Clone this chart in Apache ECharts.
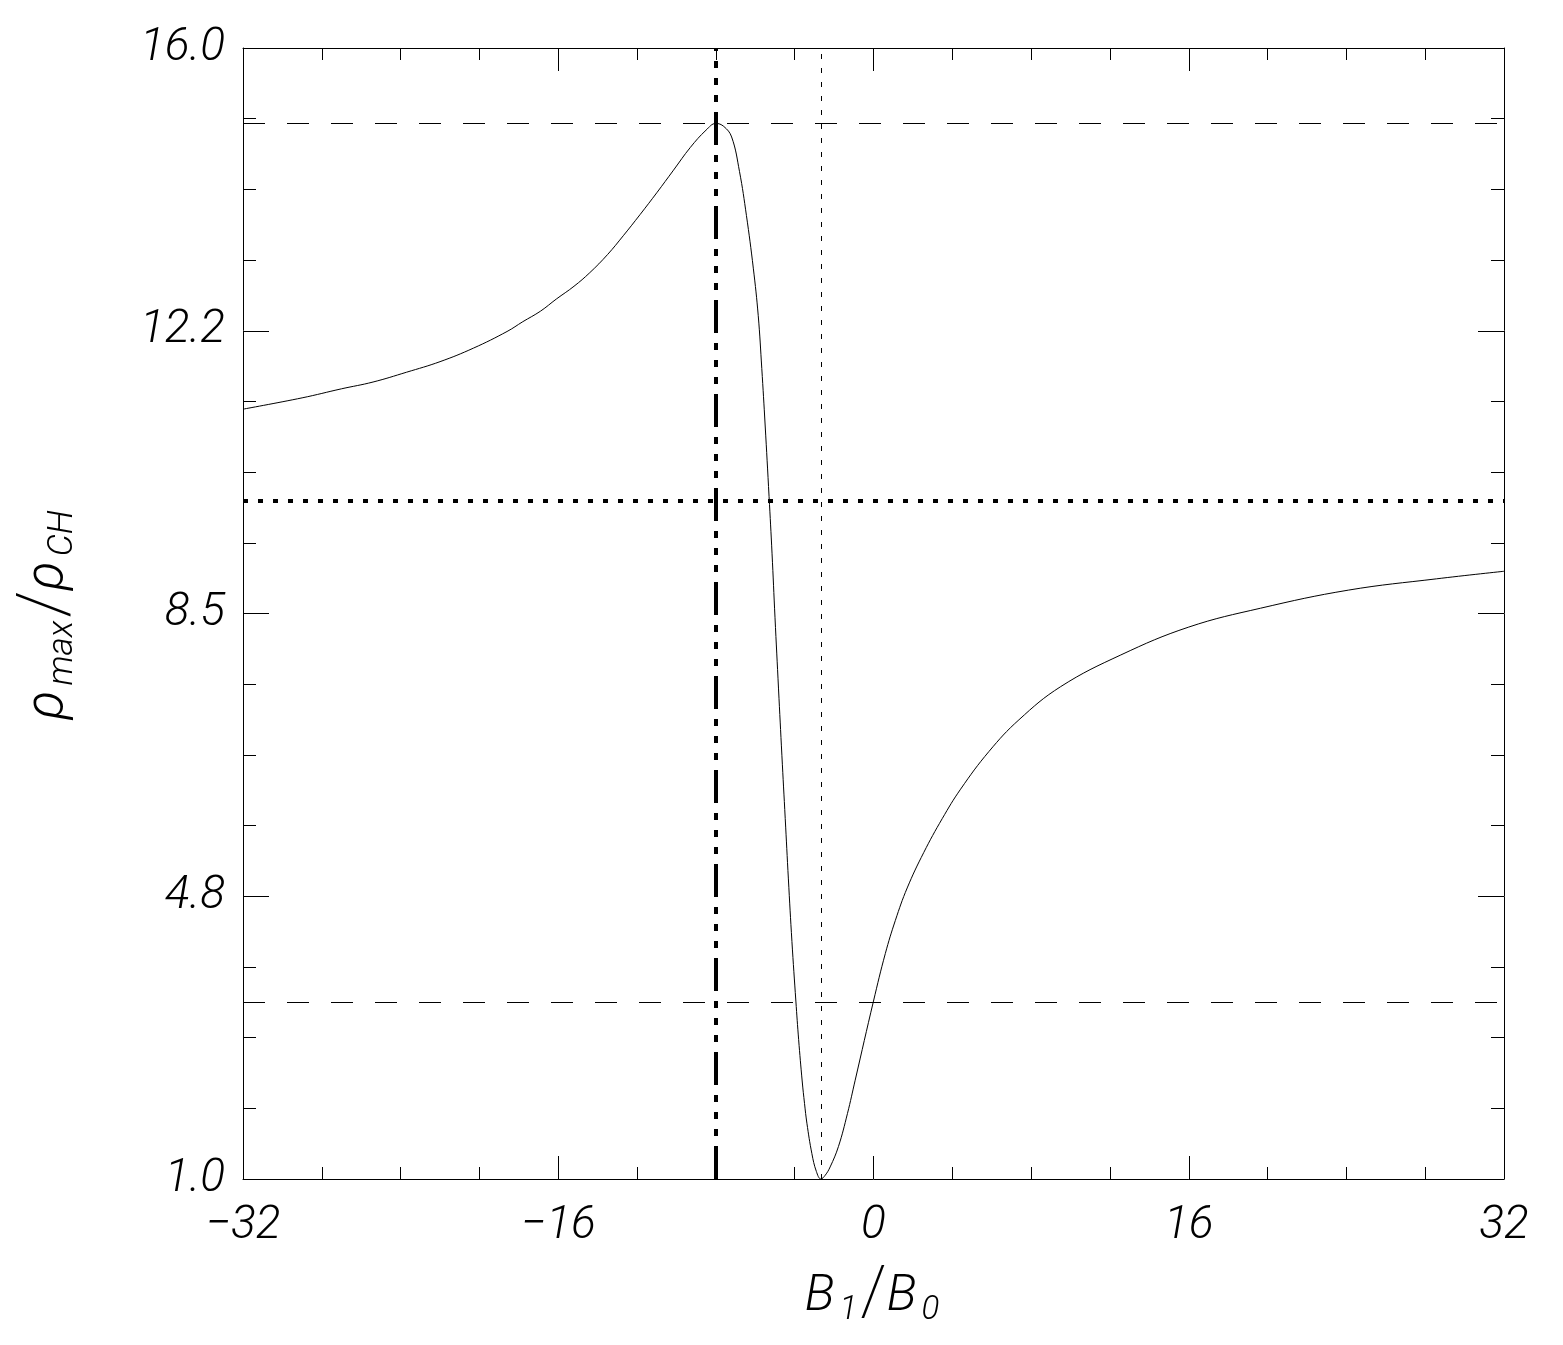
<!DOCTYPE html>
<html>
<head>
<meta charset="utf-8">
<script src="https://cdn.jsdelivr.net/npm/echarts@6/dist/echarts.min.js"></script>
<style>
html,body{margin:0;padding:0;background:#fff;}
#c{width:1563px;height:1345px;}
</style>
</head>
<body>
<div id="c"></div>
<script>
// ---- data ----
const curveX = [-32,-29,-27,-25.4,-23.7,-22,-20.3,-18.6,-17.8,-16.9,-16.1,-15.2,-14.4,-13.5,-12.7,-11.85,-11,-10.15,-9.3,-8.5,-8,-7.6,-7.2,-6.8,-6.45,-6.1,-5.85,-5.67,-5.5,-5.3,-5.15,-5,-4.82,-4.65,-4.48,-4.32,-4.14,-3.94,-3.8,-3.62,-3.5,-3.38,-3.13,-2.9,-2.67,-2.45,-2.2,-1.78,-1.32,-0.93,0,0.6,1.11,1.71,2.55,3.49,4.42,5.86,7.38,9.5,12.55,16,19.64,24.1,28.58,32];
const curveY = [11.21,11.36,11.48,11.57,11.70,11.84,12.02,12.24,12.37,12.51,12.67,12.84,13.02,13.26,13.51,13.79,14.08,14.38,14.68,14.91,15.0,14.96,14.82,14.36,13.78,13.08,12.45,11.75,11.0,10.05,9.3,8.45,7.5,6.62,5.78,4.98,4.15,3.36,2.85,2.3,2.0,1.74,1.34,1.1,1.0,1.05,1.16,1.43,1.87,2.31,3.36,3.99,4.43,4.86,5.33,5.78,6.17,6.67,7.09,7.53,7.95,8.32,8.57,8.81,8.96,9.06];
const dashedY = [15, 3.35];      // thin dashed horizontal lines
const dottedY = [10];            // thick dotted horizontal line
const dashDotX = [-8];           // thick dash-dot-dot-dot vertical line
const thinDotX = [-2.67];        // thin dotted vertical line
const xTicks = [-32, -16, 0, 16, 32];
const yTickValues = [1, 4.75, 8.5, 12.25, 16];
const yTickLabels = ['1.0', '4.8', '8.5', '12.2', '16.0'];
const yMinorValues = [1,1.9375,2.875,3.8125,4.75,5.6875,6.625,7.5625,8.5,9.4375,10.375,11.3125,12.25,13.1875,14.125,15.0625,16];

const FONT = 'Roboto';
const chart = echarts.init(document.getElementById('c'), null, {renderer: 'canvas'});

const lbl = {fontFamily: FONT, fontStyle: 'italic', fontWeight: 300, fontSize: 46, color: '#000'};
const axLine = {show: true, onZero: false, lineStyle: {color: '#000', width: 1}};

function xAx(pos, showLabel) {
  return {
    type: 'value', position: pos, min: xTicks[0], max: xTicks[xTicks.length - 1], interval: 16,
    axisLine: axLine,
    axisTick: {show: true, inside: true, length: 23, lineStyle: {color: '#000', width: 1}},
    minorTick: {show: true, splitNumber: 4, length: 12, lineStyle: {color: '#000', width: 1}},
    splitLine: {show: false},
    axisLabel: Object.assign({show: showLabel, margin: 24,
      formatter: v => (v < 0 ? '\u2212' + Math.abs(v) : String(v))}, lbl),
    name: showLabel ? '{b|B}{s|1}{sl|/}{b|B}{s|0}' : '',
    nameLocation: 'middle', nameGap: 84,
    nameTextStyle: {
      rich: {
        b: {fontFamily: FONT, fontStyle: 'italic', fontWeight: 300, fontSize: 50, color: '#000'},
        s: {fontFamily: FONT, fontStyle: 'italic', fontWeight: 300, fontSize: 33, color: '#000', padding: [28, 3, 0, 5]},
        sl: {fontFamily: FONT, fontWeight: 200, fontSize: 68, color: '#000'}
      }
    }
  };
}
function yAx(pos, values, len, showLabel, withLine) {
  return {
    type: 'value', position: pos, min: 1, max: 16,
    axisLine: withLine ? axLine : {show: false, onZero: false},
    axisTick: {show: true, inside: true, length: len, customValues: values, lineStyle: {color: '#000', width: 1}},
    splitLine: {show: false},
    axisLabel: Object.assign({show: showLabel, margin: 18, customValues: yTickValues,
      formatter: v => {
        const i = yTickValues.findIndex(t => Math.abs(t - v) < 1e-6);
        return i >= 0 ? yTickLabels[i] : '';
      }}, lbl),
    name: showLabel ? '{r|\u03c1}{s|max}{sl|/}{r|\u03c1}{s|CH}' : '',
    nameLocation: 'middle', nameRotate: 90, nameGap: 160,
    nameTextStyle: {
      rich: {
        r: {fontFamily: FONT, fontStyle: 'italic', fontWeight: 300, fontSize: 54, color: '#000'},
        s: {fontFamily: FONT, fontStyle: 'italic', fontWeight: 300, fontSize: 35, color: '#000', padding: [30, 3, 0, 5]},
        sl: {fontFamily: FONT, fontWeight: 200, fontSize: 70, color: '#000'}
      }
    }
  };
}

const markData = [];
dashedY.forEach(v => markData.push({yAxis: v, lineStyle: {type: [22, 22], width: 1, color: '#000'}}));
dottedY.forEach(v => markData.push({yAxis: v, lineStyle: {type: [5, 10], width: 4, color: '#000'}}));
dashDotX.forEach(v => markData.push({xAxis: v, lineStyle: {type: [33, 10, 7, 10, 7, 10, 7, 10], width: 4, color: '#000'}}));
thinDotX.forEach(v => markData.push({xAxis: v, lineStyle: {type: [5, 9], width: 1, color: '#000'}}));

chart.setOption({
  backgroundColor: '#fff',
  animation: false,
  grid: {left: 243, right: 59, top: 48, bottom: 166, containLabel: false, outerBoundsMode: 'none'},
  xAxis: [xAx('bottom', true), xAx('top', false)],
  yAxis: [
    yAx('left', yTickValues, 26, true, true),
    yAx('left', yMinorValues, 13, false, false),
    yAx('right', yTickValues, 26, false, true),
    yAx('right', yMinorValues, 13, false, false)
  ],
  series: [{
    type: 'line',
    xAxisIndex: 0, yAxisIndex: 0,
    data: curveX.map((x, i) => [x, curveY[i]]),
    showSymbol: false, symbol: 'none',
    smooth: 0.4,
    sampling: null,
    lineStyle: {color: '#000', width: 1},
    markLine: {symbol: ['none', 'none'], silent: true, label: {show: false}, data: markData}
  }]
});
</script>
</body>
</html>
